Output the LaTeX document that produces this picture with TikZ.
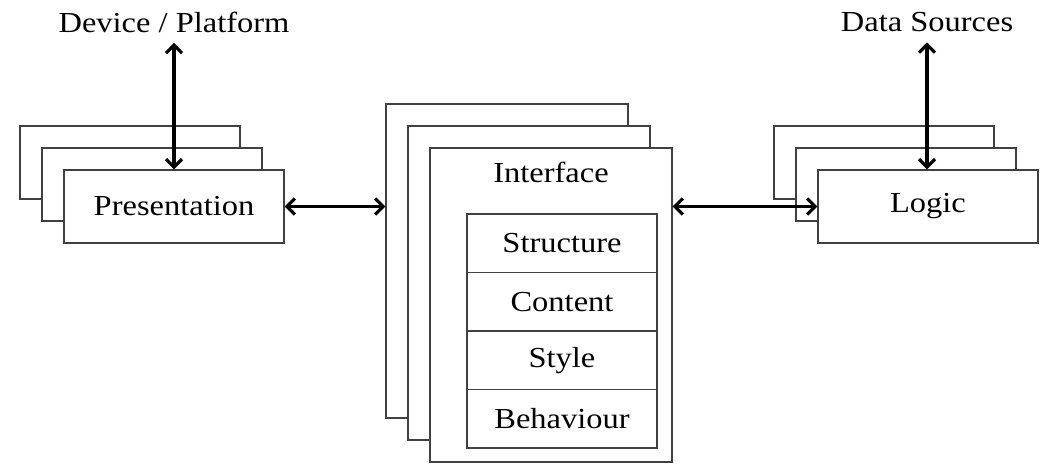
\documentclass[tikz,border=0pt]{standalone}
\usepackage{fontspec}
\setmainfont[FakeStretch=1.12]{Liberation Serif}
\usetikzlibrary{arrows.meta,positioning}

\begin{document}
\begin{tikzpicture}[x=1pt,y=-1pt,
    font=\fontsize{29}{34}\selectfont,
    layer/.style={draw=black!75,line width=1.2pt,fill=white,inner sep=0pt},
    side/.style={layer,minimum width=220pt,minimum height=73pt},
    core/.style={layer,minimum width=242pt,minimum height=314pt},
    part/.style={layer,outer sep=0pt,minimum width=190pt,minimum height=58.5pt},
    link/.style={{Straight Barb[length=8pt,width=16pt]}-{Straight Barb[length=8pt,width=16pt]},line width=3.2pt}]
    \useasboundingbox (0,0) rectangle (1054,476);
    % presentation stack
    \node[side] (pres_2) at (130,162.5) {};
    \node[side] (pres_1) at (152,184.5) {};
    \node[side] (pres) at (174,206.5) {Presentation};
    % interface stack
    \node[core] (int_2) at (507,261) {};
    \node[core] (int_1) at (529,283) {};
    \node[core] (int) at (551,305) {};
    \node (int_label) at (551,172) {Interface};
    \node[part] (structure) at (562,243.25) {Structure};
    \node[part] (content) [below=0pt of structure] {Content};
    \node[part] (style) [below=0pt of content] {Style};
    \node[part] (behaviour) [below=0pt of style] {Behaviour};
    % logic stack
    \node[side] (logic_2) at (884,162.5) {};
    \node[side] (logic_1) at (906,184.5) {};
    \node[side] (logic) at (928,206.5) {Logic};
    % outside
    \node (device) at (174,22) {Device / Platform};
    \node (data) at (927,22) {Data Sources};
    \draw[link] (device.south) ++(0,7) coordinate (device_end) -- (pres.north);
    \draw[link] (data.south) ++(0,7) coordinate (data_end) -- (data_end |- logic.north);
    \draw[link] (pres.east) -- (pres.east -| int_2.west);
    \draw[link] (int.east |- logic.west) -- (logic.west);
\end{tikzpicture}
\end{document}
